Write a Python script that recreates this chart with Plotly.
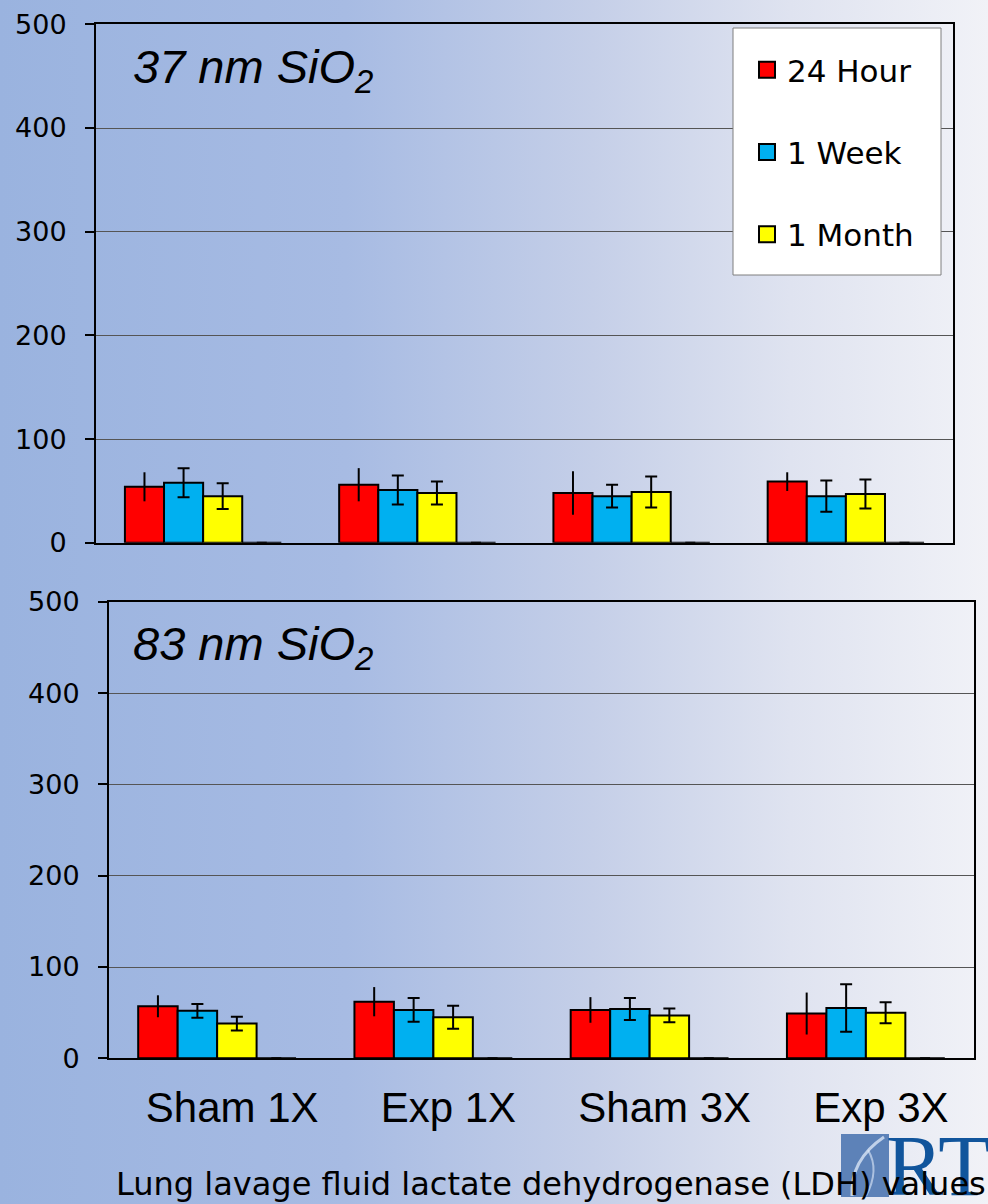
import base64
import plotly.graph_objects as go

# ---------------- data ----------------
categories = ["Sham 1X", "Exp 1X", "Sham 3X", "Exp 3X"]
series_names = ["24 Hour", "1 Week", "1 Month"]
series_colors = ["#FF0000", "#00B0F0", "#FFFF00"]

# 37 nm SiO2 panel
top_24h = [54, 56, 48, 59]
top_24h_err = [14, 16, 21, 9]
top_1wk = [58, 51, 45, 45]
top_1wk_err = [14, 14, 11, 15]
top_1mo = [45, 48, 49, 47]
top_1mo_err = [12.5, 11, 15, 14]

# 83 nm SiO2 panel
bot_24h = [57, 62, 53, 49]
bot_24h_err = [12, 16, 14, 23]
bot_1wk = [52, 53, 54, 55]
bot_1wk_err = [7.5, 13, 12, 26]
bot_1mo = [38, 45, 47, 50]
bot_1mo_err = [7.5, 12.5, 7.5, 11.5]

# empty fourth series (shows only as a zero error-bar cap)
blank_vals = [0, 0, 0, 0]
blank_err = [0, 0, 0, 0]

y_ticks = [0, 100, 200, 300, 400, 500]
panel_titles = ["<i>37 nm SiO<sub>2</sub></i>", "<i>83 nm SiO<sub>2</sub></i>"]
caption = "Lung lavage fluid lactate dehydrogenase (LDH) values"

W, H = 988, 1204
ARIAL = "Arial, Liberation Sans, sans-serif"
WIDE = "DejaVu Sans, Arial, sans-serif"


def px_x(v):
    return v / W


def px_y(v):
    return 1 - v / H


# ---------------- background gradient ----------------
svg = f"""<svg xmlns='http://www.w3.org/2000/svg' width='{W}' height='{H}' preserveAspectRatio='none'>
<defs><linearGradient id='g' x1='0' y1='0' x2='1' y2='0'>
<stop offset='0' stop-color='#9ab3df'/>
<stop offset='0.35' stop-color='#a7bbe3'/>
<stop offset='0.6' stop-color='#c5cfe8'/>
<stop offset='0.8' stop-color='#dfe3f0'/>
<stop offset='1' stop-color='#f1f2f7'/>
</linearGradient></defs>
<rect width='{W}' height='{H}' fill='url(#g)'/>
</svg>"""
bg_src = "data:image/svg+xml;base64," + base64.b64encode(svg.encode()).decode()

fig = go.Figure()

panels = [
    ("x", "y", [top_24h, top_1wk, top_1mo], [top_24h_err, top_1wk_err, top_1mo_err]),
    ("x2", "y2", [bot_24h, bot_1wk, bot_1mo], [bot_24h_err, bot_1wk_err, bot_1mo_err]),
]

for xa, ya, vals, errs in panels:
    for i, (name, col, v, e) in enumerate(zip(series_names, series_colors, vals, errs)):
        fig.add_trace(go.Bar(
            x=categories, y=v, name=name, xaxis=xa, yaxis=ya,
            marker=dict(color=col, line=dict(color="black", width=2)),
            error_y=dict(type="data", array=e, visible=True, color="black",
                         thickness=2, width=0 if i == 0 else 6),
            legendgroup=name, showlegend=False, hoverinfo="skip",
        ))
    fig.add_trace(go.Bar(
        x=categories, y=blank_vals, name="", xaxis=xa, yaxis=ya,
        marker=dict(color="rgba(0,0,0,0)", line=dict(color="black", width=2)),
        error_y=dict(type="data", array=blank_err, visible=True, color="black",
                     thickness=2, width=5),
        showlegend=False, hoverinfo="skip",
    ))

# legend entries (square swatches)
for name, col in zip(series_names, series_colors):
    fig.add_trace(go.Scatter(
        x=[None], y=[None], mode="markers", name=name, legendgroup=name,
        marker=dict(symbol="square", size=16, color=col, line=dict(color="black", width=2)),
        showlegend=True, hoverinfo="skip",
    ))

axis_common = dict(showline=True, linecolor="black", linewidth=2, mirror=True)
yaxis_common = dict(
    range=[0, 500], tickvals=y_ticks, showgrid=True, gridcolor="#555555", gridwidth=1,
    zeroline=False, ticks="outside", ticklen=9, tickwidth=1.5, tickcolor="black",
    tickfont=dict(family=WIDE, size=27, color="black"), ticklabelstandoff=13,
    **axis_common,
)

fig.update_layout(
    width=W, height=H,
    margin=dict(l=0, r=0, t=0, b=0, pad=0, autoexpand=False),
    paper_bgcolor="rgba(0,0,0,0)", plot_bgcolor="rgba(0,0,0,0)",
    barmode="group", bargap=0.27, bargroupgap=0,
    font=dict(family=ARIAL, color="black"),
    xaxis=dict(domain=[px_x(96), px_x(953)], anchor="y", showticklabels=False,
               ticks="", showgrid=False, **axis_common),
    yaxis=dict(domain=[px_y(542.8), px_y(24.3)], anchor="x", **yaxis_common),
    xaxis2=dict(domain=[px_x(109), px_x(974)], anchor="y2", ticks="", showgrid=False,
                tickfont=dict(family=ARIAL, size=42, color="black"),
                ticklabelstandoff=11, ticklabelshift=15, **axis_common),
    yaxis2=dict(domain=[px_y(1058.3), px_y(601.8)], anchor="x2", **yaxis_common),
    showlegend=True,
    legend=dict(
        x=px_x(747), y=px_y(43), xanchor="left", yanchor="top",
        bgcolor="rgba(0,0,0,0)", borderwidth=0,
        font=dict(family=WIDE, size=31, color="black"),
        traceorder="grouped", tracegroupgap=39, itemsizing="trace",
    ),
    images=[dict(source=bg_src, xref="paper", yref="paper", x=0, y=1,
                 sizex=1, sizey=1, sizing="stretch", layer="below")],
)

shapes = [
    # legend frame
    dict(type="rect", xref="paper", yref="paper",
         x0=px_x(733), x1=px_x(941), y0=px_y(275), y1=px_y(28),
         fillcolor="white", line=dict(color="#7f7f7f", width=1), layer="above"),
    # logo block
    dict(type="rect", xref="paper", yref="paper",
         x0=px_x(841), x1=px_x(889), y0=px_y(1197), y1=px_y(1134),
         fillcolor="#5d82b8", line=dict(width=0), layer="below"),
    dict(type="path", xref="paper", yref="paper",
         path=(f"M {px_x(852)},{px_y(1196)} Q {px_x(850)},{px_y(1160)} {px_x(884)},{px_y(1137)}"),
         line=dict(color="rgba(225,235,250,0.75)", width=3), layer="below"),
    dict(type="path", xref="paper", yref="paper",
         path=(f"M {px_x(866)},{px_y(1196)} Q {px_x(880)},{px_y(1170)} {px_x(868)},{px_y(1150)}"),
         line=dict(color="rgba(225,235,250,0.6)", width=2), layer="below"),
]
fig.update_layout(shapes=shapes)

annotations = [
    dict(text=panel_titles[0], xref="paper", yref="paper", x=px_x(131), y=px_y(70),
         xanchor="left", yanchor="middle", showarrow=False,
         font=dict(family=ARIAL, size=47, color="black")),
    dict(text=panel_titles[1], xref="paper", yref="paper", x=px_x(131), y=px_y(647),
         xanchor="left", yanchor="middle", showarrow=False,
         font=dict(family=ARIAL, size=47, color="black")),
    dict(text="RTI", xref="paper", yref="paper", x=px_x(884), y=px_y(1166),
         xanchor="left", yanchor="middle", showarrow=False,
         font=dict(family="Liberation Serif, DejaVu Serif, serif", size=86, color="#11559c")),
    dict(text=caption, xref="paper", yref="paper", x=px_x(551), y=px_y(1184),
         xanchor="center", yanchor="middle", showarrow=False,
         font=dict(family=WIDE, size=32, color="black")),
]
fig.update_layout(annotations=annotations)

fig.write_html("out.html")
